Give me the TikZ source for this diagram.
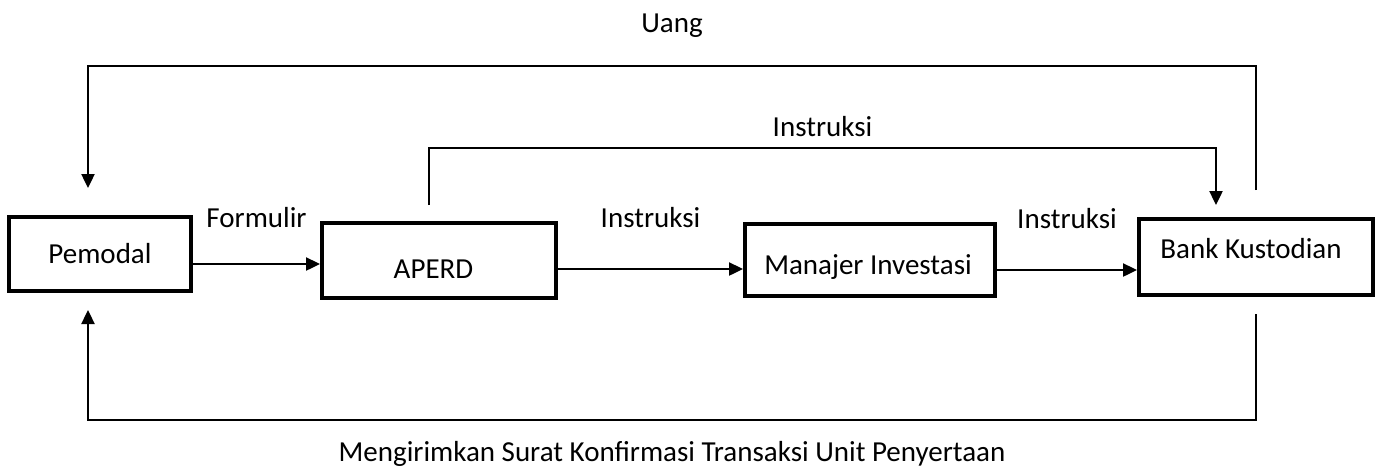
\documentclass[tikz,border=0pt]{standalone}
\usepackage{fontspec}
\setmainfont{Carlito}
\usetikzlibrary{arrows.meta}
\tikzset{
  box/.style={draw, line width=2pt, inner sep=0pt},
  conn/.style={line width=1.2pt},
  arr/.style={conn, -{Triangle[length=7pt,width=6.5pt]}},
}
\begin{document}
\begin{tikzpicture}[x=0.5pt,y=-0.5pt,font=\fontsize{14.5}{17}\selectfont]
\useasboundingbox (0,0) rectangle (1383,473);
%
\node at (100,254) [box,minimum width=91pt,minimum height=37pt] (pemodal) {Pemodal};
\node at (439,260.5) [box,minimum width=117pt,minimum height=37.5pt,
  label={[xshift=-2.75pt,yshift=-4.25pt]center:APERD}] (aperd) {};
\node at (870,260) [box,minimum width=125pt,minimum height=36pt,
  label={[xshift=-1pt,yshift=-3.25pt]center:Manajer Investasi}] (mi) {};
\node at (1256,257) [box,minimum width=117pt,minimum height=38pt,
  label={[xshift=-2.5pt,yshift=4.25pt]center:Bank Kustodian}] (bank) {};
%
\draw [arr] ([yshift=-5pt]pemodal.east) -- ([yshift=-1.75pt]aperd.west)
  node[midway,above=14.2pt]{Formulir};
\draw [arr] ([yshift=-4.25pt]aperd.east) -- ([yshift=-4.5pt]mi.west)
  node[midway,above=16.7pt]{Instruksi};
\draw [arr] ([yshift=-5pt]mi.east) -- ([yshift=-6.5pt]bank.west)
  node[midway,above=16.7pt]{Instruksi};
%
\draw [arr]
     ([yshift=13.5pt]bank.north)
  -- ++(0,-124)
  -| ([xshift=-6pt,yshift=13.5pt]pemodal.north) node[pos=0.25,above=10.3pt]{Uang};
\draw [arr]
     ([xshift=-5pt,yshift=8pt]aperd.north)
  -- ++(0,-57)
  -| ([xshift=-20pt,yshift=6pt]bank.north) node[pos=0.25,above=1.7pt]{Instruksi};
\draw [arr]
     ([yshift=-8.5pt]bank.south)
  -- ++(0,106)
  -| ([xshift=-6pt,yshift=-8.5pt]pemodal.south)
     node[pos=0.25,below=6.5pt]{Mengirimkan Surat Konfirmasi Transaksi Unit Penyertaan};
\end{tikzpicture}
\end{document}
